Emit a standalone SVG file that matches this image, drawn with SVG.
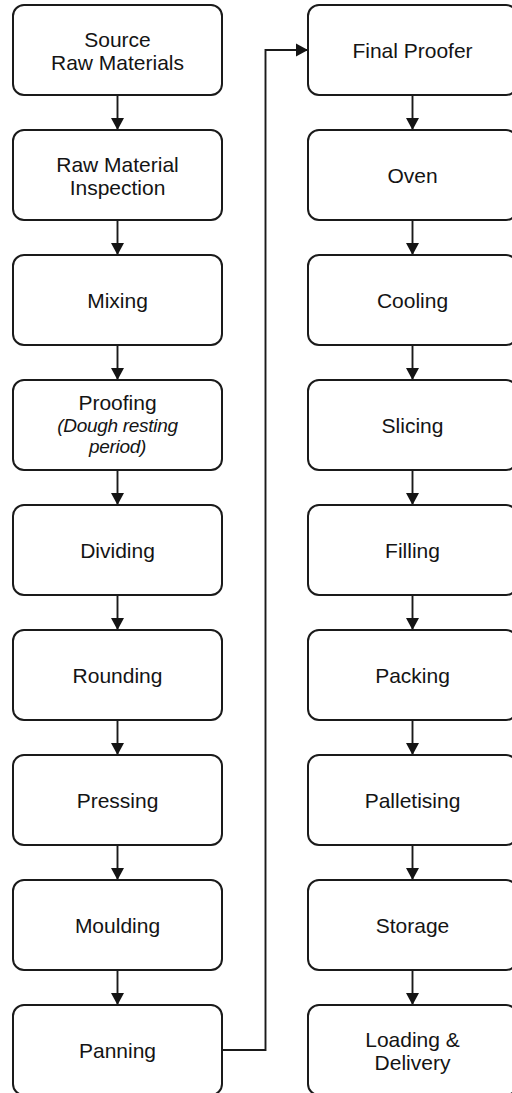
<svg xmlns="http://www.w3.org/2000/svg" width="512" height="1093" viewBox="0 0 512 1093">
  <style>
    .box { fill: #ffffff; stroke: #1a1a1a; stroke-width: 2; }
    .lbl { font-family: "Liberation Sans", Arial, sans-serif; font-size: 21px; fill: #141414; text-anchor: middle; }
    .sub { font-style: italic; font-size: 19px; letter-spacing: -0.3px; }
    .edge { fill: none; stroke: #1a1a1a; stroke-width: 1.9; }
  </style>
  <defs>
    <marker id="arrow" markerUnits="userSpaceOnUse" markerWidth="13" markerHeight="14" refX="12" refY="7" orient="auto">
      <path d="M0,0.5 L12,7 L0,13.5 z" fill="#141414"/>
    </marker>
  </defs>
  <rect width="512" height="1093" fill="#ffffff"/>

  <!-- connectors -->
  <g id="connectors">
    <line class="edge" x1="117.5" y1="95" x2="117.5" y2="130" marker-end="url(#arrow)"/>
    <line class="edge" x1="117.5" y1="220" x2="117.5" y2="255" marker-end="url(#arrow)"/>
    <line class="edge" x1="117.5" y1="345" x2="117.5" y2="380" marker-end="url(#arrow)"/>
    <line class="edge" x1="117.5" y1="470" x2="117.5" y2="505" marker-end="url(#arrow)"/>
    <line class="edge" x1="117.5" y1="595" x2="117.5" y2="630" marker-end="url(#arrow)"/>
    <line class="edge" x1="117.5" y1="720" x2="117.5" y2="755" marker-end="url(#arrow)"/>
    <line class="edge" x1="117.5" y1="845" x2="117.5" y2="880" marker-end="url(#arrow)"/>
    <line class="edge" x1="117.5" y1="970" x2="117.5" y2="1005" marker-end="url(#arrow)"/>
    <polyline class="edge" points="222,1050 265.5,1050 265.5,50 308,50" marker-end="url(#arrow)"/>
    <line class="edge" x1="412.5" y1="95" x2="412.5" y2="130" marker-end="url(#arrow)"/>
    <line class="edge" x1="412.5" y1="220" x2="412.5" y2="255" marker-end="url(#arrow)"/>
    <line class="edge" x1="412.5" y1="345" x2="412.5" y2="380" marker-end="url(#arrow)"/>
    <line class="edge" x1="412.5" y1="470" x2="412.5" y2="505" marker-end="url(#arrow)"/>
    <line class="edge" x1="412.5" y1="595" x2="412.5" y2="630" marker-end="url(#arrow)"/>
    <line class="edge" x1="412.5" y1="720" x2="412.5" y2="755" marker-end="url(#arrow)"/>
    <line class="edge" x1="412.5" y1="845" x2="412.5" y2="880" marker-end="url(#arrow)"/>
    <line class="edge" x1="412.5" y1="970" x2="412.5" y2="1005" marker-end="url(#arrow)"/>
  </g>

  <!-- left column -->
  <g id="source-raw-materials">
    <rect class="box" x="13" y="5" width="209" height="90" rx="11"/>
    <text class="lbl" x="117.5" y="46.5">Source</text>
    <text class="lbl" x="117.5" y="69.5">Raw Materials</text>
  </g>
  <g id="raw-material-inspection">
    <rect class="box" x="13" y="130" width="209" height="90" rx="11"/>
    <text class="lbl" x="117.5" y="171.5">Raw Material</text>
    <text class="lbl" x="117.5" y="194.5">Inspection</text>
  </g>
  <g id="mixing">
    <rect class="box" x="13" y="255" width="209" height="90" rx="11"/>
    <text class="lbl" x="117.5" y="307.5">Mixing</text>
  </g>
  <g id="proofing">
    <rect class="box" x="13" y="380" width="209" height="90" rx="11"/>
    <text class="lbl" x="117.5" y="410">Proofing</text>
    <text class="lbl sub" x="117.5" y="431.5">(Dough resting</text>
    <text class="lbl sub" x="117.5" y="453">period)</text>
  </g>
  <g id="dividing">
    <rect class="box" x="13" y="505" width="209" height="90" rx="11"/>
    <text class="lbl" x="117.5" y="557.5">Dividing</text>
  </g>
  <g id="rounding">
    <rect class="box" x="13" y="630" width="209" height="90" rx="11"/>
    <text class="lbl" x="117.5" y="682.5">Rounding</text>
  </g>
  <g id="pressing">
    <rect class="box" x="13" y="755" width="209" height="90" rx="11"/>
    <text class="lbl" x="117.5" y="807.5">Pressing</text>
  </g>
  <g id="moulding">
    <rect class="box" x="13" y="880" width="209" height="90" rx="11"/>
    <text class="lbl" x="117.5" y="932.5">Moulding</text>
  </g>
  <g id="panning">
    <rect class="box" x="13" y="1005" width="209" height="90" rx="11"/>
    <text class="lbl" x="117.5" y="1057.5">Panning</text>
  </g>

  <!-- right column -->
  <g id="final-proofer">
    <rect class="box" x="308" y="5" width="209" height="90" rx="11"/>
    <text class="lbl" x="412.5" y="57.5">Final Proofer</text>
  </g>
  <g id="oven">
    <rect class="box" x="308" y="130" width="209" height="90" rx="11"/>
    <text class="lbl" x="412.5" y="182.5">Oven</text>
  </g>
  <g id="cooling">
    <rect class="box" x="308" y="255" width="209" height="90" rx="11"/>
    <text class="lbl" x="412.5" y="307.5">Cooling</text>
  </g>
  <g id="slicing">
    <rect class="box" x="308" y="380" width="209" height="90" rx="11"/>
    <text class="lbl" x="412.5" y="432.5">Slicing</text>
  </g>
  <g id="filling">
    <rect class="box" x="308" y="505" width="209" height="90" rx="11"/>
    <text class="lbl" x="412.5" y="557.5">Filling</text>
  </g>
  <g id="packing">
    <rect class="box" x="308" y="630" width="209" height="90" rx="11"/>
    <text class="lbl" x="412.5" y="682.5">Packing</text>
  </g>
  <g id="palletising">
    <rect class="box" x="308" y="755" width="209" height="90" rx="11"/>
    <text class="lbl" x="412.5" y="807.5">Palletising</text>
  </g>
  <g id="storage">
    <rect class="box" x="308" y="880" width="209" height="90" rx="11"/>
    <text class="lbl" x="412.5" y="932.5">Storage</text>
  </g>
  <g id="loading-delivery">
    <rect class="box" x="308" y="1005" width="209" height="90" rx="11"/>
    <text class="lbl" x="412.5" y="1046.5">Loading &amp;</text>
    <text class="lbl" x="412.5" y="1069.5">Delivery</text>
  </g>
</svg>
